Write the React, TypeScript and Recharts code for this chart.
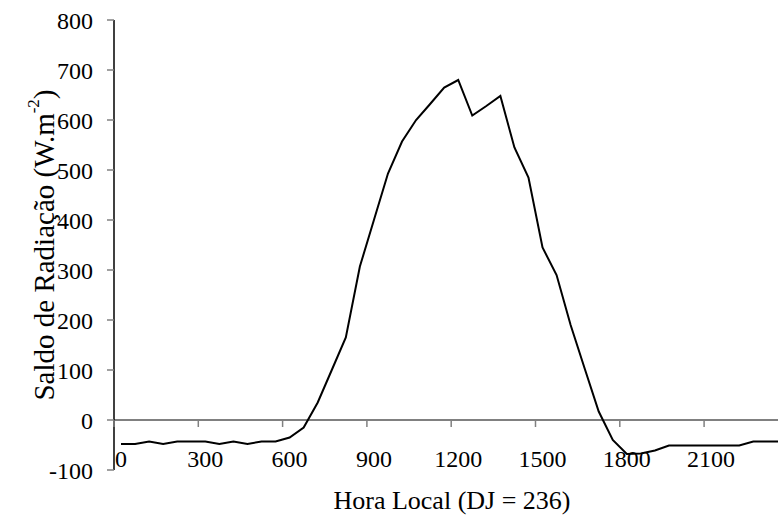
import React from 'react';
import { LineChart, Line, XAxis, YAxis, ReferenceLine, Label } from 'recharts';

// horas locais (hhmm), a cada 30 min
const horas = [
  0, 30, 100, 130, 200, 230, 300, 330, 400, 430, 500, 530,
  600, 630, 700, 730, 800, 830, 900, 930, 1000, 1030, 1100, 1130,
  1200, 1230, 1300, 1330, 1400, 1430, 1500, 1530, 1600, 1630, 1700, 1730,
  1800, 1830, 1900, 1930, 2000, 2030, 2100, 2130, 2200, 2230, 2300, 2330,
];

// saldo de radiação (W.m-2)
const saldo = [
  -48, -48, -43, -48, -43, -43, -43, -48, -43, -48, -43, -43,
  -35, -15, 35, 100, 165, 307, 400, 493, 557, 600, 632, 665,
  680, 609, 628, 648, 545, 485, 345, 290, 190, 103, 17, -40,
  -68, -67, -61, -51, -51, -51, -51, -51, -51, -43, -43, -43,
];

const yTicks = [-100, 0, 100, 200, 300, 400, 500, 600, 700, 800];

const data = horas.map((h, i) => ({ idx: i, hora: h, saldo: saldo[i] }));
const xTicks = data.filter(d => d.hora % 300 === 0).map(d => d.idx);

const W = 778;
const H = 522;
const TOP = 20;
const Y_AXIS_W = 114;
const X_AXIS_H = 52;
const PLOT_W = W - Y_AXIS_W;
const PLOT_H = H - TOP - X_AXIS_H;
const X_MIN = -0.5;
const X_MAX = 46.76;
const Y_MIN = -100;
const Y_MAX = 800;
const HALF_BAND = PLOT_W / (X_MAX - X_MIN) / 2;
const ZERO_OFF = (PLOT_H * (0 - Y_MIN)) / (Y_MAX - Y_MIN);
const FONT = "'Liberation Serif', 'Times New Roman', serif";

const XTick = (props: any) => {
  const { x, y, payload } = props;
  return (
    <g>
      <line x1={x - HALF_BAND} x2={x - HALF_BAND} y1={y - ZERO_OFF} y2={y - ZERO_OFF + 7} stroke="#808080" strokeWidth={1.5} />
      <text x={x} y={y - 3} textAnchor="middle" style={{ fontSize: 24, fontFamily: FONT }} fill="#000">
        {horas[payload.value]}
      </text>
    </g>
  );
};

const YTitle = (props: any) => {
  const { viewBox } = props;
  const cx = viewBox.x + 44;
  const cy = viewBox.y + viewBox.height / 2;
  return (
    <text x={cx} y={cy} transform={`rotate(-90 ${cx} ${cy})`} textAnchor="middle" dominantBaseline="central"
      style={{ fontSize: 29, fontFamily: FONT }} fill="#000">
      Saldo de Radiação (W.m<tspan dy={-11} style={{ fontSize: 17 }}>-2</tspan><tspan dy={11}>)</tspan>
    </text>
  );
};

const XTitle = (props: any) => {
  const { viewBox } = props;
  return (
    <text x={viewBox.x + viewBox.width / 2 + 6} y={viewBox.y + 39} textAnchor="middle"
      style={{ fontSize: 26, fontFamily: FONT }} fill="#000">
      Hora Local (DJ = 236)
    </text>
  );
};

export default function App() {
  return (
    <div style={{ position: 'fixed', left: 0, top: 0, width: W, height: H, overflow: 'hidden', background: '#fff', fontFamily: FONT }}>
      <LineChart width={W} height={H} data={data} margin={{ top: TOP, right: 0, bottom: 0, left: 0 }} style={{ fontFamily: FONT }}>
        <XAxis
          dataKey="idx"
          type="number"
          domain={[X_MIN, X_MAX]}
          allowDataOverflow
          ticks={xTicks}
          interval={0}
          height={X_AXIS_H}
          axisLine={false}
          tickLine={false}
          tickSize={0}
          tickMargin={0}
          tick={<XTick />}
        >
          <Label content={<XTitle />} />
        </XAxis>
        <YAxis
          type="number"
          domain={[Y_MIN, Y_MAX]}
          ticks={yTicks}
          interval={0}
          width={Y_AXIS_W}
          axisLine={{ stroke: '#000', strokeWidth: 1.5 }}
          tickLine={{ stroke: '#808080', strokeWidth: 1.5 }}
          tickSize={7}
          tickMargin={14}
          tick={{ fontSize: 24, fill: '#000', style: { fontFamily: FONT } }}
        >
          <Label content={<YTitle />} />
        </YAxis>
        <ReferenceLine y={0} stroke="#808080" strokeWidth={2} />
        <Line
          type="linear"
          dataKey="saldo"
          stroke="#000"
          strokeWidth={2}
          dot={false}
          isAnimationActive={false}
        />
      </LineChart>
    </div>
  );
}
